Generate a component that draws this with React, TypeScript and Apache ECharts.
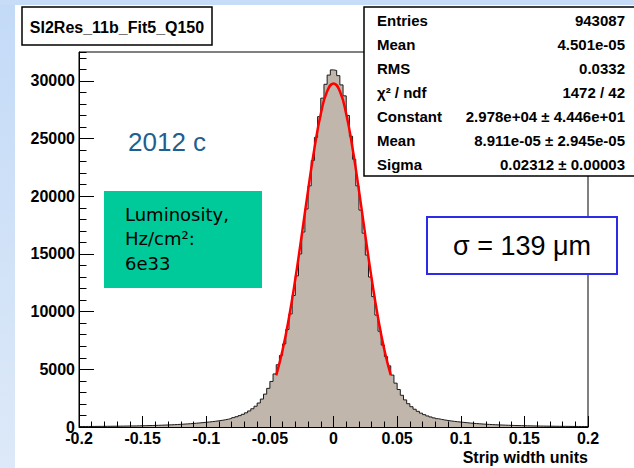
import React, { useEffect, useRef } from "react";
import * as echarts from "echarts";

// Histogram binning (x in strip width units)
const BIN_MIN = -0.2;
const BIN_WIDTH = 0.0025;

// Bin contents: left half (-0.2 .. 0) and right half (0 .. 0.2)
const countsLeft = [
  42, 44, 46, 48, 50, 53, 55, 58, 61, 64,
  67, 70, 74, 78, 82, 86, 91, 96, 102, 108,
  114, 121, 129, 137, 146, 155, 166, 177, 189, 202,
  216, 231, 248, 266, 286, 307, 330, 354, 380, 408,
  436, 466, 500, 536, 578, 625, 680, 740, 810, 890,
  985, 1100, 1230, 1390, 1580, 1800, 2080, 2420, 2850, 3350,
  3950, 4600, 5400, 6200, 7200, 8450, 9800, 11400, 13100, 15000,
  16900, 18900, 20900, 23100, 25100, 26900, 28500, 29700, 30500, 30950,
];
const countsRight = [
  30900, 30450, 29650, 28700, 27000, 25200, 23200, 20900, 18800, 16800,
  14900, 13000, 11300, 9700, 8300, 7100, 6100, 5300, 4500, 3800,
  3250, 2750, 2350, 2020, 1760, 1540, 1360, 1200, 1070, 960,
  870, 790, 720, 660, 610, 565, 525, 490, 458, 430,
  400, 372, 345, 320, 298, 278, 258, 240, 224, 210,
  196, 183, 171, 160, 150, 141, 132, 124, 117, 110,
  104, 98, 93, 88, 83, 79, 75, 71, 68, 64,
  61, 58, 56, 53, 51, 49, 47, 45, 43, 42,
];

// Gaussian fit curve points
const fitX = [-0.045, -0.04, -0.035, -0.03, -0.025, -0.02, -0.015, -0.01, -0.005, 0, 0.005, 0.01, 0.015, 0.02, 0.025, 0.03, 0.035, 0.04, 0.045];
const fitY = [4480, 6670, 9470, 12830, 16600, 20490, 24130, 27120, 29090, 29780, 29100, 27130, 24140, 20500, 16610, 12840, 9480, 6680, 4490];

const statLabels = ["Entries", "Mean", "RMS", "\u03c7\u00b2 / ndf", "Constant", "Mean", "Sigma"];
const statValues = [
  "943087",
  "4.501e-05",
  "0.0332",
  "1472 / 42",
  "2.978e+04 \u00b1 4.446e+01",
  "8.911e-05 \u00b1 2.945e-05",
  "0.02312 \u00b1 0.00003",
];

const titleText = "SI2Res_11b_Fit5_Q150";
const xAxisTitle = "Strip width units";
const yearLabel = "2012 c";
const lumiLines = ["Luminosity,", "Hz/cm\u00b2:", "6e33"];
const sigmaLabel = "\u03c3 = 139 \u03bcm";

const X_MIN = -0.2;
const X_MAX = 0.2;
const X_INTERVAL = 0.05;
const Y_MIN = 0;
const Y_MAX = 32500;
const Y_INTERVAL = 5000;
const Y_MINOR_INTERVAL = 1000;

const FONT = "'Liberation Sans', Arial, sans-serif";

export default function App() {
  const ref = useRef<HTMLDivElement | null>(null);

  useEffect(() => {
    if (!ref.current) return;
    const chart = echarts.init(ref.current, undefined, { renderer: "svg" });

    const counts = [...countsLeft, ...countsRight];
    const histData: number[][] = counts.map((c, i) => [BIN_MIN + i * BIN_WIDTH, c]);
    histData.push([BIN_MIN + counts.length * BIN_WIDTH, counts[counts.length - 1]]);
    const fitData = fitX.map((x, i) => [x, fitY[i]]);

    const statTexts: any[] = [];
    statLabels.forEach((lab, i) => {
      const y = 20 + i * 24;
      statTexts.push({
        type: "text", x: 377, y, z: 101,
        style: { text: lab, fontFamily: FONT, fontWeight: "bold", fontSize: 15, fill: "#000", align: "left", verticalAlign: "middle" },
      });
      statTexts.push({
        type: "text", x: 625, y, z: 101,
        style: { text: statValues[i], fontFamily: FONT, fontWeight: "bold", fontSize: 15, fill: "#000", align: "right", verticalAlign: "middle" },
      });
    });

    const lumiTexts = lumiLines.map((t, i) => ({
      type: "text", x: 125, y: 214 + i * 24.5, z: 101,
      style: { text: t, fontFamily: "'DejaVu Sans', sans-serif", fontSize: 18, fill: "#000", align: "left", verticalAlign: "middle" },
    }));

    chart.setOption({
      animation: false,
      backgroundColor: "#ffffff",
      grid: {
        left: 79, top: 52, width: 509, height: 375,
        show: true, borderColor: "#000", borderWidth: 1, backgroundColor: "#fff",
      },
      xAxis: {
        type: "value", min: X_MIN, max: X_MAX, interval: X_INTERVAL, z: 10, position: "bottom",
        axisLine: { show: true, onZero: false, lineStyle: { color: "#000", width: 1 } },
        axisTick: { show: true, inside: true, length: 11, lineStyle: { color: "#000", width: 1 } },
        minorTick: { show: true, splitNumber: 5, length: 5.5, lineStyle: { color: "#000", width: 1 } },
        splitLine: { show: false },
        minorSplitLine: { show: false },
        axisLabel: {
          color: "#000", fontFamily: FONT, fontWeight: "bold", fontSize: 16, margin: 3,
          showMinLabel: true, showMaxLabel: true,
          formatter: (v: number) => String(Math.round(v * 100) / 100),
        },
      },
      yAxis: [
        {
          type: "value", min: Y_MIN, max: Y_MAX, interval: Y_INTERVAL, position: "left", z: 10,
          axisLine: { show: true, onZero: false, lineStyle: { color: "#000", width: 1 } },
          axisTick: { show: true, inside: true, length: 15, lineStyle: { color: "#000", width: 1 } },
          splitLine: { show: false },
          axisLabel: {
            color: "#000", fontFamily: FONT, fontWeight: "bold", fontSize: 16, margin: 4,
            showMinLabel: true, showMaxLabel: false,
            formatter: (v: number) => String(Math.round(v)),
          },
        },
        {
          type: "value", min: Y_MIN, max: Y_MAX, interval: Y_MINOR_INTERVAL, position: "left", z: 10,
          axisLine: { show: false, onZero: false },
          axisTick: { show: true, inside: true, length: 7.5, lineStyle: { color: "#000", width: 1 } },
          splitLine: { show: false },
          axisLabel: { show: false },
        },
      ],
      series: [
        {
          type: "line", step: "end", data: histData, symbol: "none", yAxisIndex: 0, z: 2,
          lineStyle: { color: "#1a1a1a", width: 1 },
          areaStyle: { color: "#c1b6ab", opacity: 1 },
        },
        {
          type: "line", data: fitData, smooth: true, symbol: "none", yAxisIndex: 0, z: 3,
          lineStyle: { color: "#ff0000", width: 2.5 },
        },
      ],
      graphic: [
        {
          type: "rect", z: 0, shape: { x: 0, y: 0, width: 15, height: 468 },
          style: {
            fill: new echarts.graphic.LinearGradient(0, 0, 0, 1, [
              { offset: 0, color: "#c3daf7" },
              { offset: 1, color: "#dde9f8" },
            ]),
          },
        },
        { type: "rect", z: 0, shape: { x: 0, y: 0, width: 634, height: 5 }, style: { fill: "#c6dcf7" } },
        // title box
        { type: "rect", z: 100, shape: { x: 22, y: 7, width: 190, height: 38 }, style: { fill: "#fff", stroke: "#000", lineWidth: 1.5 } },
        {
          type: "text", x: 117, y: 27, z: 101,
          style: { text: titleText, fontFamily: FONT, fontWeight: "bold", fontSize: 16, fill: "#000", align: "center", verticalAlign: "middle" },
        },
        // stats box
        { type: "rect", z: 100, shape: { x: 364, y: 7, width: 290, height: 169 }, style: { fill: "#fff", stroke: "#000", lineWidth: 1.5 } },
        ...statTexts,
        // year label
        {
          type: "text", x: 128, y: 142, z: 101,
          style: { text: yearLabel, fontFamily: FONT, fontSize: 26, fill: "#1f5f8f", align: "left", verticalAlign: "middle" },
        },
        // luminosity box
        { type: "rect", z: 100, shape: { x: 104, y: 191, width: 158, height: 97 }, style: { fill: "#00c99a" } },
        ...lumiTexts,
        // sigma box
        { type: "rect", z: 100, shape: { x: 427, y: 217, width: 190, height: 57 }, style: { fill: "#fff", stroke: "#2b2be8", lineWidth: 2 } },
        {
          type: "text", x: 522, y: 246, z: 101,
          style: { text: sigmaLabel, fontFamily: FONT, fontSize: 27, fill: "#000", align: "center", verticalAlign: "middle" },
        },
        // x axis title
        {
          type: "text", x: 588, y: 457, z: 101,
          style: { text: xAxisTitle, fontFamily: FONT, fontWeight: "bold", fontSize: 16, fill: "#000", align: "right", verticalAlign: "middle" },
        },
      ],
    });

    return () => chart.dispose();
  }, []);

  return <div ref={ref} style={{ position: "absolute", left: 0, top: 0, width: 634, height: 468 }} />;
}
